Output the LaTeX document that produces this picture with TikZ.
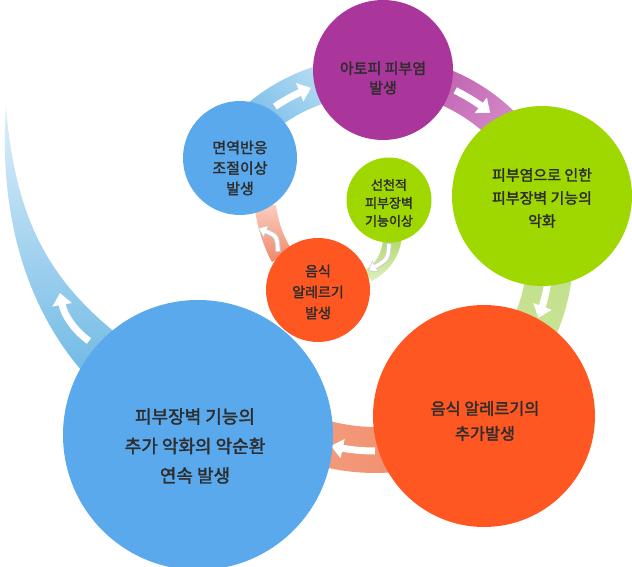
\documentclass[tikz,border=0pt]{standalone}
\usepackage{fontspec}
\setmainfont{Noto Sans CJK KR}[FakeBold=2]
\usetikzlibrary{arrows.meta}
\definecolor{atopyc}{RGB}{170,54,155}
\definecolor{barrierc}{RGB}{159,216,0}
\definecolor{allergyc}{RGB}{255,87,34}
\definecolor{immunec}{RGB}{90,169,236}
\definecolor{ink}{RGB}{45,45,45}
\definecolor{skydark}{RGB}{95,178,228}
\definecolor{skylight}{RGB}{205,231,247}
\definecolor{plumdark}{RGB}{185,85,170}
\definecolor{plumlight}{RGB}{228,170,218}
\definecolor{leaftop}{RGB}{188,220,128}
\definecolor{leafbot}{RGB}{205,230,160}
\definecolor{salmonl}{RGB}{246,170,140}
\definecolor{salmonr}{RGB}{238,128,95}
\definecolor{tailtop}{RGB}{222,239,250}
\definecolor{tailbot}{RGB}{108,184,228}
\definecolor{sprout}{RGB}{175,215,100}
\definecolor{sproutpale}{RGB}{222,240,195}
\definecolor{peach}{RGB}{240,135,105}
\definecolor{peachpale}{RGB}{250,205,190}
\newcommand\fsz[2]{\fontsize{#1}{#2}\selectfont}

\begin{document}
\begin{tikzpicture}[
  x=1pt, y=-1pt,
  bubble/.style={circle, inner sep=0pt, minimum size=#1},
  words/.style={text=ink, align=center, inner sep=0pt},
  hook/.style={white, line width=7pt, -{Triangle[width=19pt,length=12pt]}},
  rimhook/.style={gray!40, line width=5.5pt, shorten <=-1pt, -{Triangle[width=13pt,length=9pt]}},
  innerhook/.style={white, line width=3.5pt, shorten >=1.2pt, -{Triangle[width=10pt,length=7pt]}},
]
\useasboundingbox (0,0) rectangle (632,567);
\coordinate (ring) at (375,255);
% bands of the outer cycle
\begin{scope}[shift={(ring)}]
  \shade[bottom color=skydark, top color=skylight, shading angle=-45]
    plot[domain=212:276, samples=40] (\x:198) -- plot[domain=276:212, samples=40] (\x:160) -- cycle;
  \shade[bottom color=plumdark, top color=plumlight, shading angle=-135]
    plot[domain=268:345, samples=40] (\x:200) -- plot[domain=345:268, samples=40] (\x:164) -- cycle;
  \shade[top color=leaftop, bottom color=leafbot]
    plot[domain=-25:60, samples=40] (\x:198) -- plot[domain=60:-25, samples=40] (\x:152) -- cycle;
  \shade[left color=salmonl, right color=salmonr]
    plot[domain=50:140, samples=40] (\x:218) -- plot[domain=140:50, samples=40] (\x:172) -- cycle;
  % arrows on the bands
  \draw[hook] plot[domain=236:249, samples=12] (\x:179);
  \draw[hook] plot[domain=296:309, samples=12] (\x:183);
  \draw[hook] plot[domain=8:21, samples=12] (\x:175);
  \draw[hook] plot[domain=90:103, samples=12] (\x:196);
\end{scope}
% tail leaving the big circle
\shade[top color=tailtop, bottom color=tailbot]
  (6,106) .. controls (16,235) and (60,292) .. (135,348)
  -- (95,385) .. controls (40,330) and (-3,238) .. (6,106) -- cycle;
\draw[hook] (89,341) .. controls (74,330) and (64,315) .. (60,293);
% inner bands
\shade[top color=sprout, bottom color=sproutpale]
  (383,236) .. controls (383,254) and (375,265) .. (362,272)
  -- (372,281) .. controls (388,272) and (400,258) .. (402,236) -- cycle;
\shade[top color=peachpale, bottom color=peach]
  (254,205) .. controls (258,230) and (264,248) .. (272,262)
  -- (292,250) .. controls (284,238) and (278,222) .. (276,205) -- cycle;
\draw[rimhook] (389,244) .. controls (388,259) .. (368,271);
\draw[innerhook] (389,244) .. controls (388,259) .. (368,271);
\draw[rimhook] (278,251) .. controls (277,236) .. (258,228);
\draw[innerhook] (278,251) .. controls (277,236) .. (258,228);
% circles
\node[bubble=140pt, fill=atopyc] (atopy) at (383,70) {};
\node[bubble=180pt, fill=barrierc] (barrier) at (542,196) {};
\node[bubble=222pt, fill=allergyc] (allergy) at (484,416) {};
\node[bubble=270pt, fill=immunec] (cycle) at (198,435) {};
\node[bubble=114pt, fill=immunec] (immune) at (240,158) {};
\node[bubble=85pt, fill=barrierc] (innate) at (389,200) {};
\node[bubble=104pt, fill=allergyc] (food) at (318,290) {};
% texts
\node[words, font=\fsz{15}{19.5}] (atopyt) at (383,78) {아토피 피부염\\발생};
\node[words, font=\fsz{15}{23}] (barriert) at (542,198) {피부염으로 인한\\피부장벽 기능의\\악화};
\node[words, font=\fsz{16.3}{25}] (allergyt) at (485,421) {음식 알레르기의\\추가발생};
\node[words, font=\fsz{18}{29.5}] (cyclet) at (195,446) {피부장벽 기능의\\추가 악화의 악순환\\연속 발생};
\node[words, font=\fsz{15}{20.5}] (immunet) at (240,168) {면역반응\\조절이상\\발생};
\node[words, font=\fsz{13}{18}] (innatet) at (389,203) {선천적\\피부장벽\\기능이상};
\node[words, font=\fsz{14}{21}] (foodt) at (318,292) {음식\\알레르기\\발생};
\end{tikzpicture}
\end{document}
